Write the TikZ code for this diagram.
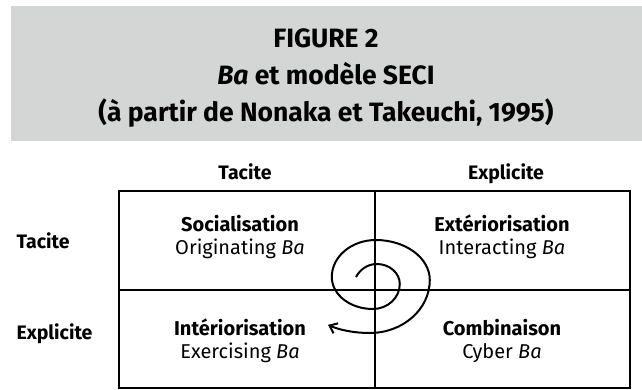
\documentclass[tikz,border=0pt]{standalone}
\usepackage{fontspec}
\setmainfont{Fira Sans}
\usepackage{xcolor}
\usepackage{tikz}
\usetikzlibrary{arrows.meta}
\definecolor{titlegray}{RGB}{212, 213, 213}

\begin{document}
\begin{tikzpicture}[
    x=1pt, y=1pt,
    titletext/.style={font=\fontsize{26.5}{33}\selectfont\bfseries, align=center},
    axis/.style={font=\fontsize{19.5}{22}\selectfont\bfseries},
    cell/.style={font=\fontsize{20}{23}\selectfont, align=center, anchor=base},
    grid/.style={line width=1.2pt},
    spiral/.style={line width=2pt, -{Straight Barb[length=7pt, width=11pt]}}
]
\useasboundingbox (0,0) rectangle (642,389);

% Title band
\fill[titlegray] (11,248) rectangle (642,383);
\node[titletext] (title) at (326,311) {FIGURE 2\\[4pt]
    \textit{Ba} et modèle SECI\\[4pt]
    (à partir de Nonaka et Takeuchi, 1995)};

% Column and row labels
\node[axis, anchor=base] (colTacite) at (245,210) {Tacite};
\node[axis, anchor=base] (colExplicite) at (506,210) {Explicite};
\node[axis, anchor=base west] (rowTacite) at (13,141) {Tacite};
\node[axis, anchor=base west] (rowExplicite) at (13,50) {Explicite};

% Matrix
\draw[grid] (119,1) rectangle (630,198);
\draw[grid] (375,1) -- (375,198);
\draw[grid] (119,99) -- (630,99);

% Quadrants
\node[cell] (soc) at (240,135) {\textbf{Socialisation}\\Originating \textit{Ba}};
\node[cell] (ext) at (502,135) {\textbf{Extériorisation}\\Interacting \textit{Ba}};
\node[cell] (int) at (240,31) {\textbf{Intériorisation}\\Exercising \textit{Ba}};
\node[cell] (comb) at (502,31) {\textbf{Combinaison}\\Cyber \textit{Ba}};

% Spiral
\draw[spiral] (356,112)
    arc[start angle=150, end angle=90, x radius=24, y radius=26]
    arc[start angle=90, end angle=0, x radius=23, y radius=20]
    arc[start angle=0, end angle=-90, x radius=27, y radius=25]
    arc[start angle=-90, end angle=-180, x radius=41, y radius=32]
    arc[start angle=180, end angle=90, x radius=44, y radius=37]
    arc[start angle=90, end angle=0, x radius=54, y radius=40]
    arc[start angle=0, end angle=-90, x radius=60, y radius=53]
    arc[start angle=-90, end angle=-130, x radius=65, y radius=35];

\end{tikzpicture}
\end{document}
